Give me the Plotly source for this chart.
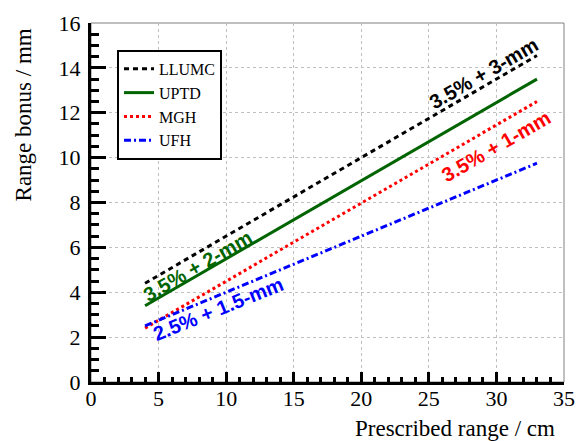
import plotly.graph_objects as go

# Data (straight lines, endpoints)
x_range = [4, 33]
llumc = [4.4, 14.55]
uptd = [3.4, 13.5]
mgh = [2.4, 12.5]
ufh = [2.5, 9.75]

names = ["LLUMC", "UPTD", "MGH", "UFH"]
series = [llumc, uptd, mgh, ufh]
colors = ["black", "#006400", "red", "blue"]
dashes = ["5px,4px", "solid", "3px,3px", "7px,3px,2px,3px"]

labels = ["3.5% + 3-mm", "3.5% + 2-mm", "3.5% + 1-mm", "2.5% + 1.5-mm"]
label_x = [29.1, 7.9, 30.0, 9.4]
label_y = [13.75, 5.15, 10.53, 3.26]
label_angle = [-30, -30, -30, -22]

fig = go.Figure()
for n, s, c, d in zip(names, series, colors, dashes):
    fig.add_trace(go.Scatter(x=x_range, y=s, mode="lines", name=n,
                             line=dict(color=c, dash=d, width=3)))

for t, lx, ly, a, c in zip(labels, label_x, label_y, label_angle, colors):
    fig.add_annotation(x=lx, y=ly, text="<b>%s</b>" % t, showarrow=False,
                       textangle=a, font=dict(family="Liberation Sans", size=20, color=c))

serif = "Liberation Serif"
axis_common = dict(showline=True, linecolor="black", linewidth=3,
                   ticks="inside", tickwidth=3, tickcolor="black",
                   showgrid=True, gridcolor="#c0c0c0", griddash="dot", gridwidth=1,
                   zeroline=False, tickfont=dict(family=serif, size=22, color="black"))

fig.update_xaxes(range=[0, 35], dtick=5, ticklen=10, ticklabelstandoff=-5,
                 minor=dict(ticks="inside", ticklen=5, dtick=1, tickwidth=3,
                            tickcolor="black", showgrid=False),
                 **axis_common)
fig.update_yaxes(range=[0, 16], dtick=2, ticklen=15, ticklabelstandoff=3,
                 minor=dict(ticks="inside", ticklen=8, dtick=0.5, tickwidth=3,
                            tickcolor="black", showgrid=False),
                 **axis_common)

fig.add_shape(type="rect", xref="paper", yref="paper", x0=0, y0=0, x1=1, y1=1,
              line=dict(color="#808080", width=1), layer="below")

fig.add_annotation(xref="paper", yref="paper", x=0.985, y=-0.09, xanchor="right",
                   yanchor="top", text="Prescribed range / cm", showarrow=False,
                   font=dict(family=serif, size=23, color="black"))
fig.add_annotation(xref="paper", yref="paper", x=-0.143, y=0.99, xanchor="center",
                   yanchor="top", text="Range bonus / mm", showarrow=False, textangle=-90,
                   font=dict(family=serif, size=23, color="black"))

fig.update_layout(
    width=586, height=441,
    margin=dict(l=91, r=11, t=19, b=59),
    plot_bgcolor="white", paper_bgcolor="white",
    showlegend=True,
    legend=dict(x=0.055, y=0.925, xanchor="left", yanchor="top",
                bgcolor="white", bordercolor="black", borderwidth=2,
                font=dict(family=serif, size=16, color="black"),
                tracegroupgap=0, itemwidth=30),
)

fig.write_html("out.html")
